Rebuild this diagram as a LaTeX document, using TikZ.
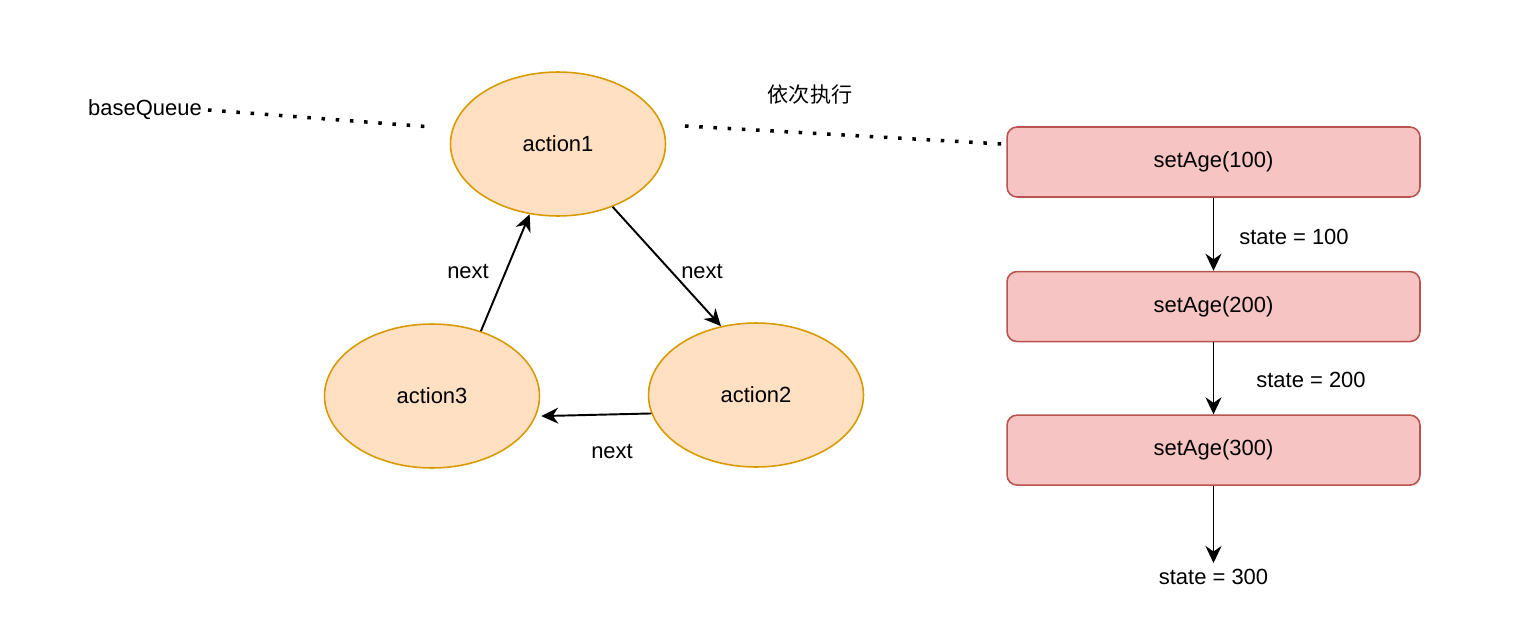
\documentclass[tikz,border=0pt]{standalone}
\usepackage{fontspec}
\setmainfont{Liberation Sans}
\newfontfamily\cjkfont{Noto Sans CJK SC}
\usetikzlibrary{arrows.meta,positioning,shapes.geometric}

\definecolor{actfill}{HTML}{FFE0C2}
\definecolor{actdraw}{HTML}{D79B00}
\definecolor{setfill}{HTML}{F6C4C2}
\definecolor{setdraw}{HTML}{B85450}

\begin{document}
\begin{tikzpicture}[
  x=0.02cm, y=-0.02cm,
  font=\fontsize{12.5}{15}\selectfont,
  action/.style={ellipse, draw=actdraw, fill=actfill, line width=0.9pt, minimum width=4.3cm, minimum height=2.88cm, inner sep=0pt},
  setter/.style={draw=setdraw, fill=setfill, line width=0.9pt, rounded corners=0.2cm, minimum width=8.26cm, minimum height=1.4cm},
  edgetext/.style={inner sep=2pt},
  arrow/.style={-{Stealth[length=0.34cm, width=0.32cm, inset=0.11cm]}, line width=1.1pt},
  queue/.style={dash pattern=on 2pt off 6.1pt, line width=2pt}
]
\useasboundingbox (0,0) rectangle (1514,632);

\node[action] (a1) at (558,144) {action1};
\node[action] (a2) at (756,395) {action2};
\node[action] (a3) at (432,396) {action3};

\node[edgetext] (n31) at (468,272) {next};
\node[edgetext] (n12) at (702,272) {next};
\node[edgetext] (n23) at (612,452) {next};

\draw[arrow] (a3.53) -- (a1.248);
\draw[arrow] (a1.311) -- (a2.117);
\draw[arrow, shorten >=3pt] (a2.190) -- (a3.349);

\node (bq) at (145,110) {baseQueue};
\coordinate (q1) at (432,127);
\draw[queue] (bq.east) -- (q1);

\node[setter] (s1) at (1213.5,162) {setAge(100)};
\node[setter, below=1.46cm of s1] (s2) {setAge(200)};
\node[setter, below=1.44cm of s2] (s3) {setAge(300)};

\node[font=\cjkfont\fontsize{12}{14}\selectfont] (order) at (810,95) {依次执行};
\coordinate (q2) at (685,126);
\draw[queue] (q2) -- ([yshift=-0.36cm]s1.north west);

\node[edgetext] (st1) at (1294,237) {state = 100};
\node[edgetext] (st2) at (1311,380) {state = 200};
\node (st3) at (1213.5,577) {state = 300};

\draw[arrow] (s1) -- (s2);
\draw[arrow] (s2) -- (s3);
\draw[arrow] (s3) -- (st3);
\end{tikzpicture}
\end{document}
